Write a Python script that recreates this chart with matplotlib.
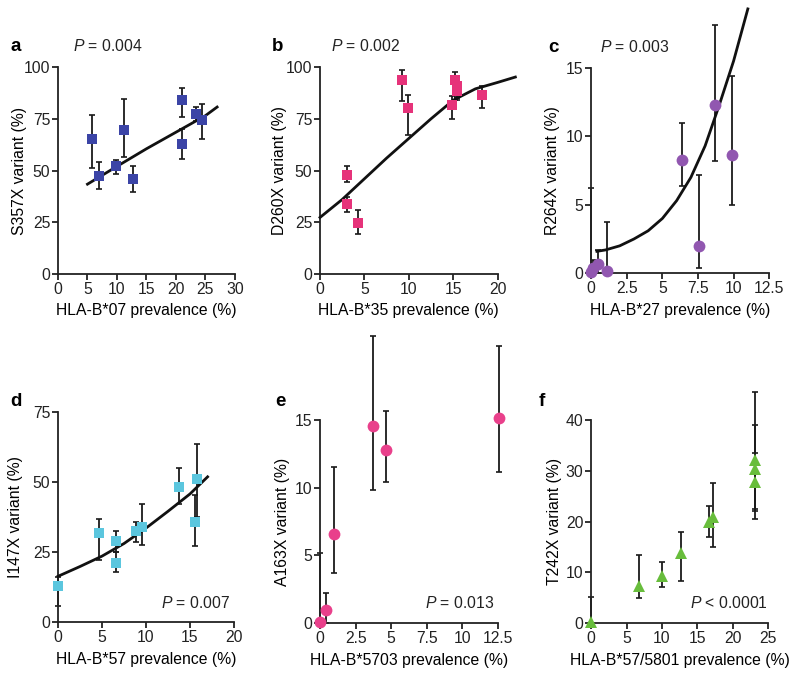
import matplotlib
matplotlib.use('Agg')
from matplotlib import pyplot as plt

# panel a: S357X vs HLA-B*07
a_x = [5.7, 7.0, 9.8, 11.2, 12.7, 21.0, 21.1, 23.5, 24.5]
a_y = [65, 47.5, 52, 69.5, 46, 84, 63, 77.5, 74.5]
a_lo = [51, 41, 48.5, 56.6, 39.4, 76, 55.8, 74, 65]
a_hi = [77, 54, 55.3, 84.4, 52.4, 90, 70, 80.7, 82]
a_fit_x = [5, 10, 15, 20, 25, 27]
a_fit_y = [43.4, 52, 60.5, 68.5, 76.5, 80.7]

# panel b: D260X vs HLA-B*35
b_x = [3.0, 3.0, 4.3, 9.2, 9.9, 14.85, 15.2, 15.4, 15.4, 18.2]
b_y = [48, 34, 24.5, 94, 80, 81.5, 94, 91, 88.5, 86.5]
b_lo = [44.5, 30, 19.3, 83.4, 67, 75, 84, 85, 84, 80]
b_hi = [52.3, 37.3, 31, 98.6, 86.5, 86, 97.7, 93, 92, 91]
b_fit_x = [0, 2.5, 5, 7.5, 10, 12.5, 15, 17.5, 20, 22]
b_fit_y = [27.3, 36, 46, 56, 65.5, 75, 84, 89.5, 92.6, 95.2]

# panel c: R264X vs HLA-B*27
c_x = [0.0, 0.1, 0.5, 1.1, 6.35, 7.55, 8.7, 9.9]
c_y = [0.1, 0.35, 0.7, 0.15, 8.3, 2.0, 12.3, 8.6]
c_lo = [0, 0, 0, 0, 6.4, 0.4, 8.2, 5.0]
c_hi = [6.2, 1.0, 1.7, 3.75, 11.0, 7.2, 18.1, 14.4]
c_fit_x = [0.4, 1, 2, 3, 4, 5, 6, 7, 8, 9, 10, 11]
c_fit_y = [1.6, 1.7, 2.0, 2.5, 3.1, 4.0, 5.3, 7.0, 9.3, 12.3, 15.5, 19.3]

# panel d: I147X vs HLA-B*57
d_x = [0, 4.66, 6.59, 6.55, 8.86, 9.58, 13.7, 15.83, 15.57]
d_y = [13, 31.9, 28.9, 21, 32.3, 34.0, 48.3, 51.0, 35.8]
d_lo = [5.6, 22.1, 25.1, 17.7, 28.7, 27.3, 42, 37.6, 27.1]
d_hi = [16, 36.8, 32.3, 25.1, 35.6, 42.0, 54.8, 63.6, 45.4]
d_fit_x = [0, 2.5, 5, 7.5, 10, 12.5, 15, 17]
d_fit_y = [16.3, 19.8, 23.5, 28, 33.5, 39.5, 45.7, 51.8]

# panel e: A163X vs HLA-B*5703
e_x = [0, 0.4, 1.0, 3.7, 4.6, 12.55]
e_y = [0.05, 1.0, 6.6, 14.55, 12.75, 15.15]
e_lo = [0, 0, 3.7, 9.85, 10.45, 11.15]
e_hi = [5.15, 2.25, 11.5, 21.2, 15.65, 20.5]

# panel f: T242X vs HLA-B*57/5801
f_x = [0, 6.8, 10.0, 12.65, 16.7, 17.2, 23.2, 23.2, 23.2]
f_y = [0.3, 7.4, 9.3, 13.8, 20.0, 20.8, 32.1, 30.3, 27.8]
f_lo = [0, 4.9, 7.2, 8.2, 17.0, 14.9, 22.0, 20.6, 22.5]
f_hi = [5.2, 13.4, 12.0, 18.0, 23.1, 27.6, 45.5, 39.1, 33.5]

plt.rcParams['font.family'] = 'Liberation Sans'
plt.rcParams['font.size'] = 11.3
plt.rcParams['mathtext.fontset'] = 'custom'
plt.rcParams['mathtext.it'] = 'Liberation Sans:italic'
plt.rcParams['mathtext.rm'] = 'Liberation Sans'
plt.rcParams['xtick.direction'] = 'out'
plt.rcParams['ytick.direction'] = 'out'
plt.rcParams['text.color'] = '#222222'


def panel(fig, rect, x, y, lo, hi, color, marker, ms, xlim, ylim, xticks, yticks,
          xlabel, ylabel, letter, ptext, ptop, fit_x=None, fit_y=None,
          xticklabels=None, letter_x=-0.27, ylab_x=-0.18):
    ax = fig.add_axes(rect)
    ax.spines['top'].set_visible(False)
    ax.spines['right'].set_visible(False)
    for s in ['left', 'bottom']:
        ax.spines[s].set_linewidth(1.3)
        ax.spines[s].set_color('#222222')
    ax.tick_params(width=1.3, length=4, color='#222222', labelcolor='#222222', pad=1.5)

    # 誤差棒
    yerr = [[yy - l for yy, l in zip(y, lo)], [h - yy for yy, h in zip(y, hi)]]
    eb = ax.errorbar(x, y, yerr=yerr, fmt='none', ecolor='#1a1a1a', elinewidth=1.3,
                     capsize=2.5, capthick=1.2, zorder=2)
    for art in eb.get_children():
        art.set_clip_on(False)

    if fit_x is not None:
        ax.plot(fit_x, fit_y, color='#111111', lw=2, zorder=3, clip_on=False)

    ax.plot(x, y, linestyle='none', marker=marker, ms=ms, color=color,
            markeredgewidth=0, zorder=4, clip_on=False)

    ax.set_xlim(xlim)
    ax.set_ylim(ylim)
    ax.set_xticks(xticks)
    if xticklabels is not None:
        ax.set_xticklabels(xticklabels)
    ax.set_yticks(yticks)
    ax.set_xlabel(xlabel, labelpad=5)
    ax.set_ylabel(ylabel)
    ax.yaxis.set_label_coords(ylab_x, 0.5)

    ax.text(letter_x, ptop[2], letter, transform=ax.transAxes, fontsize=13.5,
            fontweight='bold', va='center', ha='left', color='black')
    if ptop[0] == 'top':
        ax.text(ptop[1], ptop[2], ptext, transform=ax.transAxes, va='center', ha='left')
    else:
        ax.text(ptop[1], ptop[3], ptext, transform=ax.transAxes, va='center', ha='right')
    return ax


fig = plt.figure(figsize=(8, 6.78), dpi=100)

panel(fig, [0.0725, 0.596, 0.221, 0.305], a_x, a_y, a_lo, a_hi, '#3b44a6', 's', 6.8,
      (0, 30), (0, 100), range(0, 31, 5), range(0, 101, 25),
      'HLA-B*07 prevalence (%)', 'S357X variant (%)', 'a', '$P$ = 0.004',
      ('top', 0.085, 1.1), a_fit_x, a_fit_y, ylab_x=-0.175)

panel(fig, [0.400, 0.596, 0.222, 0.305], b_x, b_y, b_lo, b_hi, '#e6337a', 's', 6.8,
      (0, 20), (0, 100), range(0, 21, 5), range(0, 101, 25),
      'HLA-B*35 prevalence (%)', 'D260X variant (%)', 'b', '$P$ = 0.002',
      ('top', 0.06, 1.1), b_fit_x, b_fit_y, ylab_x=-0.185)

panel(fig, [0.739, 0.597, 0.2225, 0.303], c_x, c_y, c_lo, c_hi, '#9157b0', 'o', 8.5,
      (0, 12.5), (0, 15), [0, 2.5, 5, 7.5, 10, 12.5], [0, 5, 10, 15],
      'HLA-B*27 prevalence (%)', 'R264X variant (%)', 'c', '$P$ = 0.003',
      ('top', 0.05, 1.1), c_fit_x, c_fit_y,
      xticklabels=['0', '2.5', '5', '7.5', '10', '12.5'], letter_x=-0.24, ylab_x=-0.174)

panel(fig, [0.0725, 0.0826, 0.22, 0.310], d_x, d_y, d_lo, d_hi, '#5bc6de', 's', 6.8,
      (0, 20), (0, 75), range(0, 21, 5), [0, 25, 50, 75],
      'HLA-B*57 prevalence (%)', 'I147X variant (%)', 'd', '$P$ = 0.007',
      ('bottom', 0.98, 1.05, 0.09), d_fit_x, d_fit_y, ylab_x=-0.2)

panel(fig, [0.400, 0.081, 0.2225, 0.2995], e_x, e_y, e_lo, e_hi, '#e9408b', 'o', 8.5,
      (0, 12.5), (0, 15), [0, 2.5, 5, 7.5, 10, 12.5], [0, 5, 10, 15],
      'HLA-B*5703 prevalence (%)', 'A163X variant (%)', 'e', '$P$ = 0.013',
      ('bottom', 0.98, 1.09, 0.1),
      xticklabels=['0', '2.5', '5', '7.5', '10', '12.5'], letter_x=-0.25, ylab_x=-0.17)

panel(fig, [0.739, 0.081, 0.221, 0.2995], f_x, f_y, f_lo, f_hi, '#68bd3c', '^', 9,
      (0, 25), (0, 40), range(0, 26, 5), range(0, 41, 10),
      'HLA-B*57/5801 prevalence (%)', 'T242X variant (%)', 'f', '$P$ < 0.0001',
      ('bottom', 1.0, 1.09, 0.1), letter_x=-0.3, ylab_x=-0.165)

fig.savefig('out.png', dpi=100)
plt.close()
